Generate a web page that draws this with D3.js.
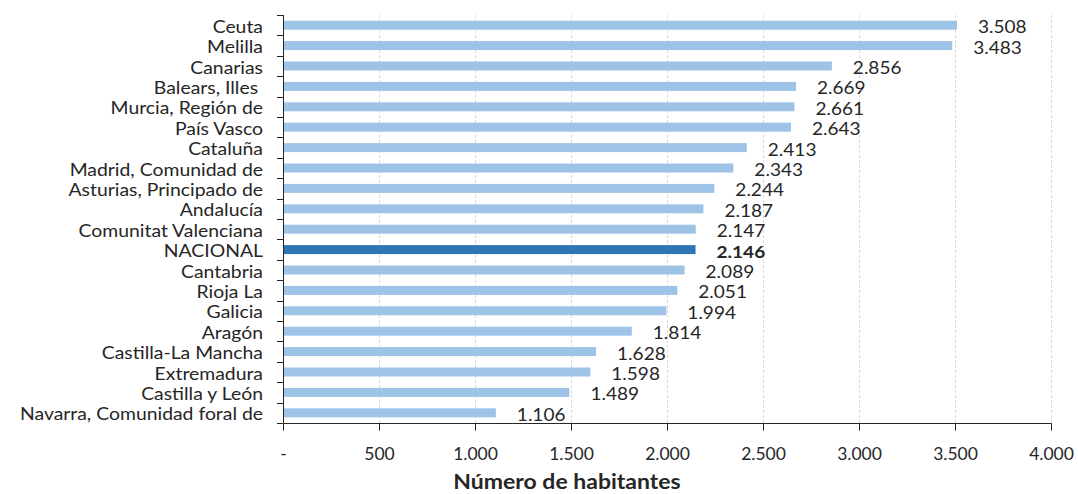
<!DOCTYPE html>
<html><head><meta charset="utf-8">
<script src="https://cdn.jsdelivr.net/npm/d3@7"></script>
<style>body{margin:0;background:#fff}svg{display:block}text{font-family:Lato,"Open Sans",sans-serif}</style>
</head><body><svg id="c" width="1078" height="494"></svg>
<script>
const categories = ["Ceuta","Melilla","Canarias","Balears, Illes ","Murcia, Región de","País Vasco","Cataluña","Madrid, Comunidad de","Asturias, Principado de","Andalucía","Comunitat Valenciana","NACIONAL","Cantabria","Rioja La","Galicia","Aragón","Castilla-La Mancha","Extremadura","Castilla y León","Navarra, Comunidad foral de"];
const values = [3508,3483,2856,2669,2661,2643,2413,2343,2244,2187,2147,2146,2089,2051,1994,1814,1628,1598,1489,1106];
const highlight = "NACIONAL";
const xTicks = [0,500,1000,1500,2000,2500,3000,3500,4000];
const xTitle = "Número de habitantes";

const svg = d3.select("#c");
const x = d3.scaleLinear().domain([0,4000]).range([283.5,1051.5]);
const y = d3.scaleBand().domain(categories).range([15,423]).paddingInner(0.56).paddingOuter(0.28);
const fmt = v => v === 0 ? "-" : d3.format(",")(v).replace(/,/g,".");

// gridlines
svg.append("g").selectAll("line").data(xTicks.slice(1)).join("line")
  .attr("x1",d=>x(d)).attr("x2",d=>x(d)).attr("y1",15).attr("y2",423)
  .attr("stroke","#d9d9d9").attr("stroke-dasharray","3,2").attr("stroke-width",1);

// bars
svg.append("g").selectAll("rect").data(categories).join("rect")
  .attr("x",x(0)).attr("y",d=>y(d)).attr("height",y.bandwidth())
  .attr("width",(d,i)=>x(values[i])-x(0))
  .attr("fill",d=>d===highlight?"#2e75b6":"#9dc3e6");

// value labels
svg.append("g").selectAll("text").data(categories).join("text")
  .attr("transform",(d,i)=>`translate(${x(values[i])+21},${y(d)+y.bandwidth()/2+1.5}) scale(1.12,1)`)
  .attr("dominant-baseline","central")
  .attr("font-size",17).attr("fill","#262626")
  .attr("font-weight",d=>d===highlight?"bold":"normal")
  .text((d,i)=>fmt(values[i]));

// y axis
const yb = d3.scaleBand().domain(categories).range([15,423]);
const ya = svg.append("g");
ya.append("line").attr("x1",283.5).attr("x2",283.5).attr("y1",15).attr("y2",423).attr("stroke","#262626");
ya.selectAll("line.t").data(d3.range(categories.length+1)).join("line").attr("class","t")
  .attr("x1",277).attr("x2",283.5).attr("y1",i=>Math.round(15+i*yb.bandwidth())+0.5).attr("y2",i=>Math.round(15+i*yb.bandwidth())+0.5)
  .attr("stroke","#262626");
ya.selectAll("text").data(categories).join("text")
  .attr("transform",d=>`translate(263,${yb(d)+yb.bandwidth()/2+1}) scale(1.14,1)`)
  .attr("text-anchor","end")
  .attr("dominant-baseline","central").attr("font-size",17).attr("fill","#262626")
  .style("white-space","pre").text(d=>d);

// x axis
const xa = svg.append("g").attr("transform","translate(0,423.5)");
xa.append("line").attr("x1",283.5).attr("x2",1051.5).attr("stroke","#262626");
xa.selectAll("line.t").data(xTicks).join("line").attr("class","t")
  .attr("x1",d=>x(d)).attr("x2",d=>x(d)).attr("y1",0).attr("y2",7).attr("stroke","#262626");
xa.selectAll("text").data(xTicks).join("text")
  .attr("x",d=>x(d)).attr("y",30).attr("text-anchor","middle").attr("dominant-baseline","central")
  .attr("font-size",17.5).attr("fill","#262626").text(fmt);

svg.append("text").attr("transform","translate(567,489) scale(1.07,1)").attr("text-anchor","middle")
  .attr("font-size",21.5).attr("font-weight","bold").attr("fill","#262626").text(xTitle);
</script></body></html>
